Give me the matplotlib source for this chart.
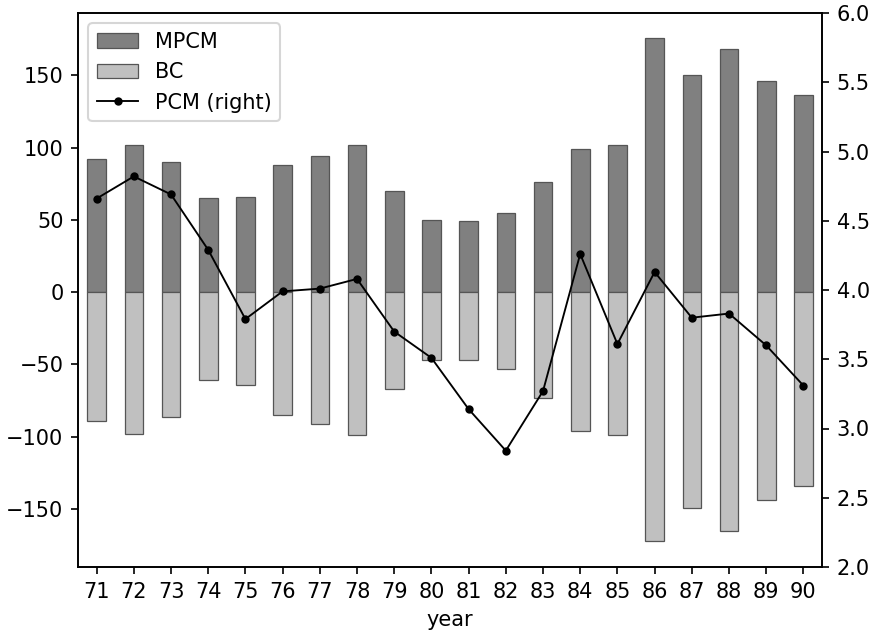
import matplotlib
matplotlib.use("Agg")
import matplotlib.pyplot as plt
import numpy as np

years = ["71", "72", "73", "74", "75", "76", "77", "78", "79", "80",
         "81", "82", "83", "84", "85", "86", "87", "88", "89", "90"]
mpcm = [92, 102, 90, 65, 66, 88, 94, 102, 70, 50,
        49, 55, 76, 99, 102, 176, 150, 168, 146, 136]
bc = [-89, -98, -86, -61, -64, -85, -91, -99, -67, -47,
      -47, -53, -73, -96, -99, -172, -149, -165, -144, -134]
pcm = [4.66, 4.82, 4.69, 4.29, 3.79, 3.99, 4.01, 4.08, 3.70, 3.51,
       3.14, 2.84, 3.27, 4.26, 3.61, 4.13, 3.80, 3.83, 3.60, 3.31]

DPI = 150
fig = plt.figure(figsize=(870/DPI, 633/DPI), dpi=DPI)
ax = fig.add_axes([78/870, 1-567/633, (822-78)/870, (567-13)/633])
x = np.arange(len(years))
b1 = ax.bar(x, mpcm, width=0.5, color="#808080", edgecolor="#555555", linewidth=0.6, label="MPCM")
b2 = ax.bar(x, bc, width=0.5, color="#c0c0c0", edgecolor="#555555", linewidth=0.6, label="BC")
ax.set_xlim(-0.5, len(years) - 0.5)
ax.set_ylim(-190, 193)
ax.set_xticks(x)
ax.set_xticklabels(years)
ax.set_xlabel("year")

ax2 = ax.twinx()
l1, = ax2.plot(x, pcm, color="black", linewidth=0.9, marker=".", markersize=6, label="PCM (right)")
ax2.set_ylim(2.0, 6.0)
ax2.set_yticks(np.arange(2.0, 6.01, 0.5))

ax.legend([b1, b2, l1], ["MPCM", "BC", "PCM (right)"], loc="upper left")
fig.savefig("out.png", dpi=DPI)
